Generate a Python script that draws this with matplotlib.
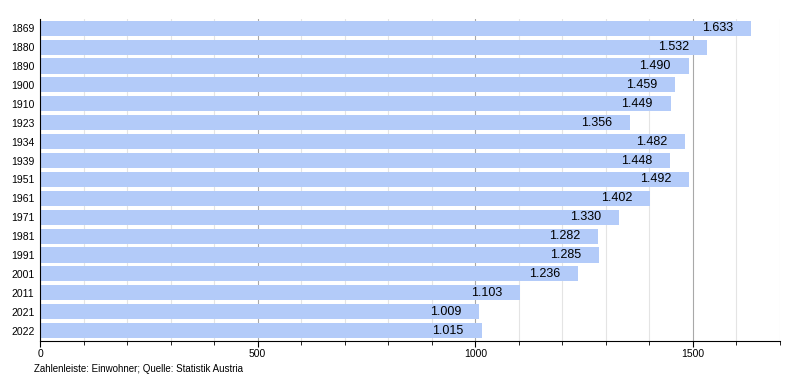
import matplotlib.pyplot as plt
from matplotlib.ticker import MultipleLocator

plt.rcParams['font.family'] = ['Liberation Sans', 'DejaVu Sans']

# Einwohner nach Jahr
years = ["1869", "1880", "1890", "1900", "1910", "1923", "1934", "1939", "1951",
         "1961", "1971", "1981", "1991", "2001", "2011", "2021", "2022"]
population = [1633, 1532, 1490, 1459, 1449, 1356, 1482, 1448, 1492,
              1402, 1330, 1282, 1285, 1236, 1103, 1009, 1015]

fig = plt.figure(figsize=(8, 3.8), dpi=100)
ax = fig.add_axes([0.05, 0.1026, 0.925, 0.848])

ypos = list(range(len(years)))
ax.barh(ypos, population, height=0.8, color="#b3cbf9", zorder=2)

for y, v in zip(ypos, population):
    label = f"{v:,}".replace(",", ".")
    ax.annotate(label, (v, y), xytext=(-13, 0), textcoords="offset points",
                ha="right", va="center", fontsize=9, color="black", zorder=3)

ax.set_yticks(ypos)
ax.set_yticklabels(years, fontsize=7.5)
ax.tick_params(axis="y", length=0, pad=4)
ax.set_ylim(len(years) - 0.45, -0.5)

ax.set_xlim(0, 1700)
ax.xaxis.set_major_locator(MultipleLocator(500))
ax.xaxis.set_minor_locator(MultipleLocator(100))
ax.tick_params(axis="x", which="major", length=4, labelsize=7.5, pad=2, color="black")
ax.tick_params(axis="x", which="minor", length=3, color="black")

ax.grid(axis="x", which="minor", color="#e4e4e4", linewidth=0.8, zorder=0)
ax.grid(axis="x", which="major", color="#a8a8a8", linewidth=0.8, zorder=0)

for side in ["top", "right"]:
    ax.spines[side].set_visible(False)
ax.spines["left"].set_color("black")
ax.spines["bottom"].set_color("black")

fig.text(0.043, 0.028, "Zahlenleiste: Einwohner; Quelle: Statistik Austria",
         fontsize=7, ha="left", va="center")

fig.savefig("out.png", dpi=100)
